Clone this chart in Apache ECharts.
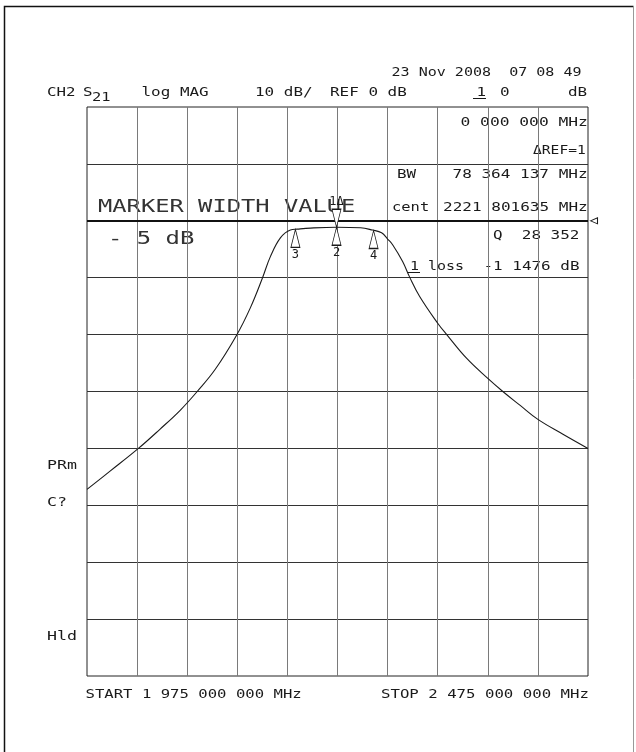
<!DOCTYPE html>
<html>
<head>
<meta charset="utf-8">
<script src="https://cdn.jsdelivr.net/npm/echarts@6/dist/echarts.min.js"></script>
<style>
  html, body { margin: 0; padding: 0; background: #fff; }
  #chartMain { width: 636px; height: 752px; }
</style>
</head>
<body>
<div id="chartMain"></div>
<script>
// sweep
var START_MHZ = 1975;
var STOP_MHZ = 2475;
var DIV_MHZ = 50;
var REF_DB = 0;
var TOP_DB = 20;
var BOTTOM_DB = -80;
var DB_PER_DIV = 10;

// trace (MHz, dB)
var freqMHz = [1975, 1998, 2026, 2048, 2068, 2085, 2103, 2124, 2138, 2150, 2158, 2168, 2178, 2185,
               2198, 2224, 2248, 2260, 2269, 2275, 2280, 2290, 2297, 2307, 2325, 2334,
               2354, 2375, 2390, 2407, 2425, 2450, 2475];
var s21dB = [-47.2, -44.0, -40.05, -36.6, -33.3, -30.0, -26.1, -20.2, -15.3, -10.1, -6.3, -3.0, -1.6, -1.46,
             -1.28, -1.14, -1.23, -1.63, -2.1, -3.2, -4.2, -7.15, -9.9, -13.3, -18.0, -20.0,
             -24.2, -27.7, -30.0, -32.4, -34.9, -37.5, -40.0];

// markers
var markerNames = ['1', '2', '3', '4'];
var markerFreq = [2224, 2224, 2183, 2261];
var markerLevel = [-1.14, -1.14, -1.5, -1.7];

function indexFn() {
  var chart = echarts.init(document.getElementById('chartMain'), null, { renderer: 'canvas' });

  var INK = '#1a1a1a';
  var FONT = '"DejaVu Sans Mono", "Liberation Mono", monospace';

  // HP screen text is wide, so stretch a monospace font to the pitch
  function txt(str, left, cy, size, pitch, color) {
    return {
      type: 'text', x: left, y: cy, silent: true,
      scaleX: pitch / (0.602 * size),
      style: { text: str, font: size + 'px ' + FONT, fill: color || INK, verticalAlign: 'middle' }
    };
  }
  function rule(x1, y1, x2, y2, color, w) {
    return { type: 'line', silent: true, shape: { x1: x1, y1: y1, x2: x2, y2: y2 },
             style: { stroke: color, lineWidth: w } };
  }

  var traceData = [];
  for (var i = 0; i < freqMHz.length; i++) {
    traceData.push([freqMHz[i] - START_MHZ, s21dB[i]]);
  }

  var triStyle = { color: '#fff', borderColor: INK, borderWidth: 1 };
  var marks = [];
  for (var k = 0; k < markerNames.length; k++) {
    var up = markerNames[k] !== '1';
    marks.push({
      coord: [markerFreq[k] - START_MHZ, markerLevel[k]],
      symbol: 'triangle',
      symbolSize: [9, 18],
      symbolRotate: up ? 0 : 180,
      symbolOffset: [0, up ? 9 : -9],
      itemStyle: triStyle,
      label: {
        show: true,
        position: up ? 'bottom' : 'top',
        distance: 1,
        formatter: up ? markerNames[k] : '1\u0394',
        color: INK, fontFamily: FONT, fontSize: 12
      }
    });
  }
  // reference position pointer at the right edge
  marks.push({
    coord: [STOP_MHZ - START_MHZ, REF_DB],
    symbol: 'triangle',
    symbolSize: [6, 7],
    symbolRotate: 90,
    symbolOffset: [6, 0],
    itemStyle: triStyle,
    label: { show: false }
  });

  var option = {
    animation: false,
    backgroundColor: '#fff',
    grid: {
      left: 87, top: 107, width: 501, height: 569,
      show: true, borderColor: '#222', borderWidth: 1, backgroundColor: 'transparent'
    },
    xAxis: {
      type: 'value',
      min: 0, max: STOP_MHZ - START_MHZ, interval: DIV_MHZ,
      axisLabel: { show: false }, axisTick: { show: false }, axisLine: { show: false },
      splitLine: { show: true, showMinLine: false, showMaxLine: false,
                   lineStyle: { color: '#7a7a7a', width: 1 } }
    },
    yAxis: {
      type: 'value',
      min: BOTTOM_DB, max: TOP_DB, interval: DB_PER_DIV,
      axisLabel: { show: false }, axisTick: { show: false }, axisLine: { show: false },
      splitLine: { show: true, showMinLine: false, showMaxLine: false,
                   lineStyle: { color: '#333', width: 1 } }
    },
    series: [{
      type: 'line',
      data: traceData,
      showSymbol: false,
      smooth: 0.4,
      lineStyle: { color: INK, width: 1.1 },
      markLine: {
        silent: true, symbol: ['none', 'none'],
        label: { show: false },
        lineStyle: { color: '#111', width: 2, type: 'solid' },
        data: [{ yAxis: REF_DB }]
      },
      markPoint: { silent: true, data: marks }
    }],
    graphic: [
      // outer frame
      { type: 'polyline', silent: true, shape: { points: [[4.5, 760], [4.5, 6.5], [633.5, 6.5]] },
        style: { stroke: '#111', lineWidth: 1.5, fill: null } },
      rule(633.5, 6.5, 633.5, 760, '#999', 1),

      // header
      txt('CH2', 47, 92.5, 12, 9.5),
      txt('S', 83, 92.5, 12, 9.5),
      txt('21', 92, 97.5, 12, 9.3),
      txt('log MAG', 141.5, 92.5, 12, 9.6),
      txt('10 dB/', 255, 92.5, 12, 9.6),
      txt('REF 0 dB', 330, 92.5, 12, 9.6),
      txt('23 Nov 2008  07 08 49', 391.5, 72.5, 12, 9.05),
      txt('1', 476.5, 92.5, 12, 9.6),
      rule(473, 98.5, 486, 98.5, INK, 1),
      txt('0', 500, 92.5, 12, 9.6),
      txt('dB', 568, 92.5, 12, 9.6),

      // marker table
      txt('0 000 000 MHz', 460.5, 122.5, 12, 9.8),
      txt('\u0394REF=1', 533, 151, 12, 8.8),
      txt('BW', 397, 175, 12, 9.6),
      txt('78 364 137 MHz', 452.5, 175, 12, 9.65),
      txt('cent', 392, 208, 12, 9.3),
      txt('2221 801635 MHz', 443, 208, 12, 9.65),
      txt('Q  28 352', 493, 236, 12, 9.6),
      txt('1 loss', 410, 267, 12, 9.0),
      rule(407, 272.5, 420, 272.5, INK, 1),
      txt('-1 1476 dB', 483.5, 267, 12, 9.6),

      // marker width annotation
      txt('MARKER WIDTH VALUE', 98, 207, 18, 14.3, '#333'),
      txt('- 5 dB', 108, 239, 18, 14.4, '#333'),

      // softkey side notes
      txt('PRm', 47, 465.5, 12, 10),
      txt('C?', 47, 503, 12, 10),
      txt('Hld', 47, 637, 12, 10),

      // sweep limits
      txt('START 1 975 000 000 MHz', 85.5, 695, 12, 9.4),
      txt('STOP 2 475 000 000 MHz', 381, 695, 12, 9.45)
    ]
  };
  chart.setOption(option, true);
}

indexFn();
</script>
</body>
</html>
